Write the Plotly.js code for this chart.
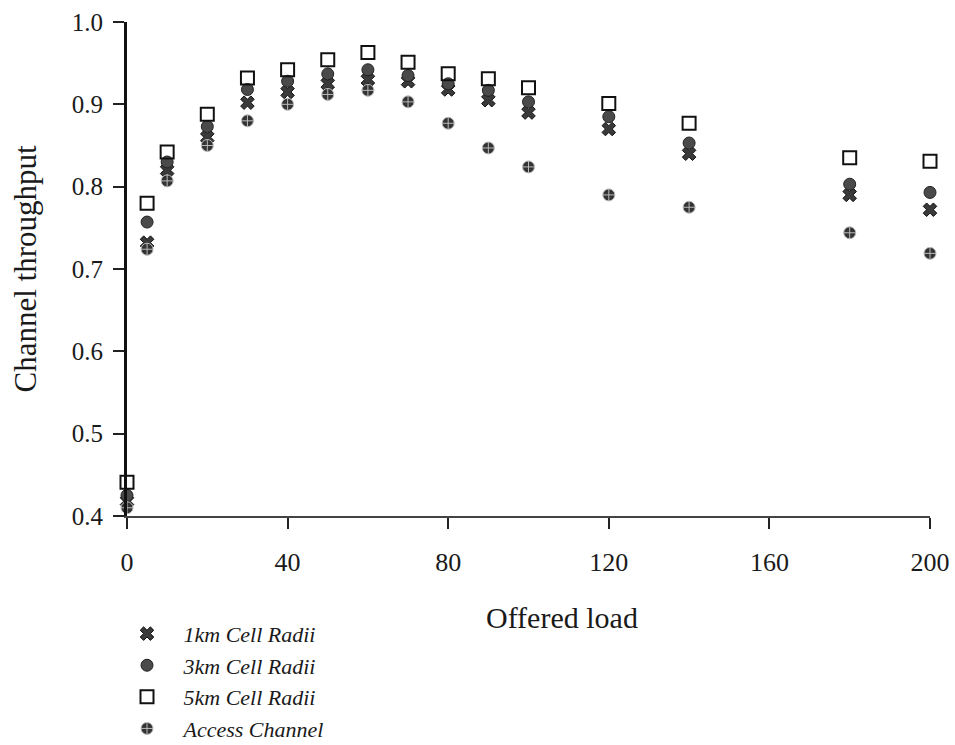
<!DOCTYPE html>
<html>
<head>
<meta charset="utf-8">
<script src="https://cdn.plot.ly/plotly-3.0.1.min.js"></script>
<style>html,body{margin:0;padding:0;background:#fff;}#chart{width:955px;height:745px;}</style>
</head>
<body>
<div id="chart"></div>
<script>
const offeredLoad = [0, 5, 10, 20, 30, 40, 50, 60, 70, 80, 90, 100, 120, 140, 180, 200];
const radius1km = [0.418, 0.732, 0.820, 0.860, 0.902, 0.915, 0.925, 0.930, 0.928, 0.918, 0.905, 0.890, 0.870, 0.840, 0.790, 0.772];
const radius3km = [0.425, 0.757, 0.830, 0.873, 0.918, 0.928, 0.937, 0.942, 0.935, 0.925, 0.917, 0.903, 0.885, 0.853, 0.803, 0.793];
const radius5km = [0.441, 0.780, 0.842, 0.888, 0.932, 0.942, 0.954, 0.963, 0.951, 0.937, 0.931, 0.920, 0.901, 0.877, 0.835, 0.831];
const accessChannel = [0.410, 0.724, 0.807, 0.850, 0.880, 0.900, 0.912, 0.917, 0.903, 0.877, 0.847, 0.824, 0.790, 0.775, 0.744, 0.719];
const seriesNames = ["1km Cell Radii", "3km Cell Radii", "5km Cell Radii", "Access Channel"];
const xTicks = [0, 40, 80, 120, 160, 200];
const yTicks = [0.4, 0.5, 0.6, 0.7, 0.8, 0.9, 1.0];
const yTickText = ["0.4", "0.5", "0.6", "0.7", "0.8", "0.9", "1.0"];
const xTitle = "Offered load";
const yTitle = "Channel throughput";

const pad = "\u00a0\u00a0\u00a0";
const serif = "Liberation Serif, Times New Roman, serif";

const traces = [
  {x: offeredLoad, y: radius1km, name: pad + seriesNames[0], legendgroup: "a",
   mode: "markers", type: "scatter", cliponaxis: false,
   marker: {symbol: "x", size: 12, color: "#3a3a3a", line: {color: "#111", width: 1}}},
  {x: offeredLoad, y: radius3km, name: pad + seriesNames[1], legendgroup: "b",
   mode: "markers", type: "scatter", cliponaxis: false,
   marker: {symbol: "circle", size: 12, color: "#4a4a4a", line: {color: "#222", width: 1}}},
  {x: offeredLoad, y: radius5km, name: pad + seriesNames[2], legendgroup: "c",
   mode: "markers", type: "scatter", cliponaxis: false,
   marker: {symbol: "square-open", size: 13, color: "#111", line: {color: "#111", width: 2}}},
  {x: offeredLoad, y: accessChannel, name: pad + seriesNames[3], legendgroup: "d",
   mode: "markers", type: "scatter", cliponaxis: false,
   marker: {symbol: "circle-cross", size: 12, color: "#333", line: {color: "#bbb", width: 1}}}
];

const layout = {
  width: 955, height: 745,
  margin: {l: 127, r: 25, t: 22, b: 229, autoexpand: false},
  paper_bgcolor: "#fff", plot_bgcolor: "#fff",
  font: {family: serif, color: "#1a1a1a"},
  showlegend: true,
  legend: {x: 0, xanchor: "left", y: -0.196, yanchor: "top",
           traceorder: "grouped", tracegroupgap: 0,
           font: {family: serif, size: 22, style: "italic", color: "#1a1a1a"},
           bgcolor: "rgba(0,0,0,0)"},
  annotations: [
    {text: xTitle, xref: "paper", yref: "paper", x: 0.542, y: -0.205,
     xanchor: "center", yanchor: "middle", showarrow: false,
     font: {family: serif, size: 30, color: "#1a1a1a"}}
  ],
  xaxis: {range: [0, 200], tickvals: xTicks, ticktext: xTicks.map(String),
          showgrid: false, zeroline: false, showline: true, linecolor: "#444", linewidth: 2,
          ticks: "outside", ticklen: 11, tickwidth: 2, tickcolor: "#222",
          ticklabelstandoff: 11,
          tickfont: {family: serif, size: 26, color: "#1a1a1a"}},
  yaxis: {range: [0.4, 1.0], tickvals: yTicks, ticktext: yTickText,
          showgrid: false, zeroline: false, showline: true, linecolor: "#111", linewidth: 3,
          ticks: "outside", ticklen: 11, tickwidth: 2, tickcolor: "#222",
          ticklabelstandoff: 5,
          tickfont: {family: serif, size: 25, color: "#1a1a1a"},
          title: {text: yTitle, font: {family: serif, size: 31, color: "#1a1a1a"}, standoff: 26}}
};

Plotly.newPlot("chart", traces, layout, {displayModeBar: false, staticPlot: true});
</script>
</body>
</html>
